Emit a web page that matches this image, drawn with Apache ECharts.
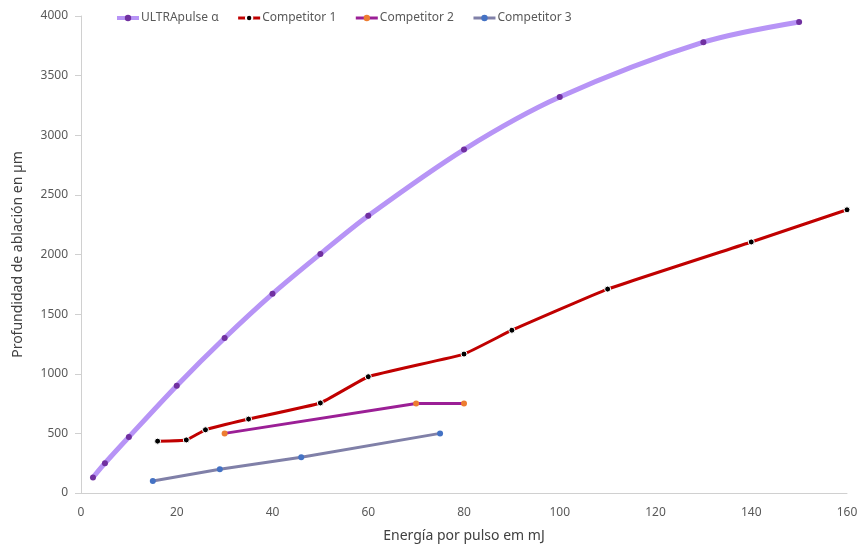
<!DOCTYPE html>
<html>
<head>
<meta charset="utf-8">
<script src="https://cdn.jsdelivr.net/npm/echarts@6/dist/echarts.min.js"></script>
<style>html,body{margin:0;padding:0;background:#fff;}#c{width:867px;height:548px;}</style>
</head>
<body>
<div id="c"></div>
<script>
const ultraX = [2.5, 5, 10, 20, 30, 40, 50, 60, 80, 100, 130, 150];
const ultraY = [130, 250, 470, 900, 1300, 1670, 2005, 2325, 2880, 3320, 3780, 3950];
const comp1X = [16, 22, 26, 35, 50, 60, 80, 90, 110, 140, 160];
const comp1Y = [435, 445, 530, 620, 755, 975, 1165, 1365, 1710, 2105, 2375];
const comp2X = [30, 70, 80];
const comp2Y = [500, 750, 750];
const comp3X = [15, 29, 46, 75];
const comp3Y = [100, 200, 300, 500];
const seriesNames = ['ULTRApulse α', 'Competitor 1', 'Competitor 2', 'Competitor 3'];

const pairs = (xs, ys) => xs.map((x, i) => [x, ys[i]]);
const font = 'Noto Sans';
const chart = echarts.init(document.getElementById('c'));
function mk(name, data, lineColor, width, dotColor, smooth, border) {
  return {
    name, type: 'line', data, smooth,
    symbol: 'circle', symbolSize: 6,
    lineStyle: { color: lineColor, width },
    itemStyle: { color: dotColor, borderColor: border ? '#fff' : dotColor, borderWidth: border ? 1 : 0 },
    color: lineColor,
    emphasis: { disabled: true }
  };
}
const legendWidths = [4, 3, 3, 3];
chart.setOption({
  animation: false,
  grid: { left: 81, right: 20, top: 16, bottom: 55 },
  legend: {
    top: 7, left: 110,
    itemWidth: 22, itemHeight: 8, itemGap: 18,
    textStyle: { fontFamily: font, fontSize: 12, color: '#595959', padding: [0, 0, 0, -3] },
    data: seriesNames.map((n, i) => ({ name: n, lineStyle: { width: legendWidths[i] } }))
  },
  xAxis: {
    type: 'value', min: 0, max: 160, interval: 20,
    name: 'Energía por pulso em mJ', nameLocation: 'middle', nameGap: 36,
    nameTextStyle: { fontFamily: font, fontSize: 14, color: '#404040' },
    axisLine: { lineStyle: { color: '#d0d0d0' } },
    axisTick: { show: false },
    axisLabel: { fontFamily: font, fontSize: 12, color: '#595959', margin: 14 },
    splitLine: { show: false }
  },
  yAxis: {
    type: 'value', min: 0, max: 4000, interval: 500,
    name: 'Profundidad de ablación en µm', nameLocation: 'middle', nameGap: 56,
    nameTextStyle: { fontFamily: font, fontSize: 14, color: '#404040' },
    axisLine: { show: true, lineStyle: { color: '#d0d0d0' } },
    axisTick: { show: true, length: 6, lineStyle: { color: '#d0d0d0' } },
    axisLabel: { fontFamily: font, fontSize: 12, color: '#595959', margin: 13, formatter: v => String(v) },
    splitLine: { show: false }
  },
  series: [
    mk(seriesNames[0], pairs(ultraX, ultraY), '#b794f6', 5, '#7030a0', 0.3, false),
    mk(seriesNames[1], pairs(comp1X, comp1Y), '#c00000', 3, '#000000', 0.1, true),
    mk(seriesNames[2], pairs(comp2X, comp2Y), '#9b1f96', 3, '#ed7d31', false, false),
    mk(seriesNames[3], pairs(comp3X, comp3Y), '#8080a8', 3, '#4472c4', false, false)
  ]
});
</script>
</body>
</html>
